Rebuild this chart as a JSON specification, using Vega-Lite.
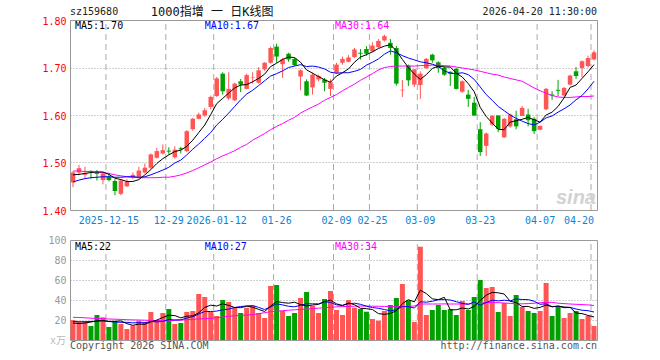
{
"$schema": "https://vega.github.io/schema/vega-lite/v6.json",
"width": 527, "height": 320,
"autosize": {"type": "none"},
"padding": {"left": 70, "top": 20, "right": 63, "bottom": 20},
"background": "white",
"config": {"view": {"stroke": null}, "axis": {"labelFont": "DejaVu Sans Mono", "labelFontSize": 10, "title": null}},
"datasets": {
"k": [
{"d":"2025-12-05","o":1.458,"h":1.481,"l":1.448,"c":1.479,"v":20,"m5":1.474,"m10":1.459,"m30":1.482,"v5":17,"v10":18.5,"v30":22.7},
{"d":"2025-12-08","o":1.479,"h":1.495,"l":1.473,"c":1.488,"v":18,"m5":1.475,"m10":1.463,"m30":1.482,"v5":16.5,"v10":18.3,"v30":22.5},
{"d":"2025-12-09","o":1.474,"h":1.491,"l":1.466,"c":1.478,"v":18.3,"m5":1.477,"m10":1.466,"m30":1.481,"v5":17,"v10":18.3,"v30":22.2},
{"d":"2025-12-10","o":1.482,"h":1.484,"l":1.466,"c":1.480,"v":14,"m5":1.479,"m10":1.468,"m30":1.481,"v5":18,"v10":18.5,"v30":21.8},
{"d":"2025-12-11","o":1.479,"h":1.484,"l":1.462,"c":1.476,"v":25,"m5":1.480,"m10":1.469,"m30":1.480,"v5":19.1,"v10":18.8,"v30":21.5},
{"d":"2025-12-12","o":1.463,"h":1.480,"l":1.454,"c":1.477,"v":22.7,"m5":1.480,"m10":1.470,"m30":1.479,"v5":19.6,"v10":19,"v30":21.3},
{"d":"2025-12-15","o":1.470,"h":1.478,"l":1.460,"c":1.463,"v":13,"m5":1.475,"m10":1.470,"m30":1.477,"v5":18.6,"v10":18.5,"v30":21},
{"d":"2025-12-16","o":1.461,"h":1.465,"l":1.431,"c":1.440,"v":19,"m5":1.467,"m10":1.469,"m30":1.474,"v5":18.7,"v10":18,"v30":20.8},
{"d":"2025-12-17","o":1.434,"h":1.465,"l":1.431,"c":1.462,"v":16,"m5":1.464,"m10":1.469,"m30":1.472,"v5":19.1,"v10":17.7,"v30":20.6},
{"d":"2025-12-18","o":1.450,"h":1.465,"l":1.448,"c":1.460,"v":11,"m5":1.460,"m10":1.470,"m30":1.470,"v5":16.3,"v10":17.7,"v30":20.3},
{"d":"2025-12-19","o":1.469,"h":1.479,"l":1.465,"c":1.474,"v":14.3,"m5":1.460,"m10":1.470,"m30":1.469,"v5":14.7,"v10":17.1,"v30":20.1},
{"d":"2025-12-22","o":1.470,"h":1.491,"l":1.466,"c":1.483,"v":19.3,"m5":1.464,"m10":1.469,"m30":1.468,"v5":15.9,"v10":17.3,"v30":20},
{"d":"2025-12-23","o":1.479,"h":1.498,"l":1.477,"c":1.489,"v":18,"m5":1.474,"m10":1.470,"m30":1.468,"v5":15.7,"v10":17.2,"v30":19.8},
{"d":"2025-12-24","o":1.489,"h":1.519,"l":1.486,"c":1.517,"v":28,"m5":1.485,"m10":1.474,"m30":1.468,"v5":18.1,"v10":18.6,"v30":19.6},
{"d":"2025-12-25","o":1.510,"h":1.531,"l":1.508,"c":1.524,"v":20,"m5":1.498,"m10":1.479,"m30":1.468,"v5":19.9,"v10":18.1,"v30":19.5},
{"d":"2025-12-26","o":1.519,"h":1.538,"l":1.517,"c":1.526,"v":27,"m5":1.508,"m10":1.484,"m30":1.469,"v5":22.5,"v10":18.6,"v30":19.4},
{"d":"2025-12-29","o":1.525,"h":1.532,"l":1.517,"c":1.523,"v":31,"m5":1.516,"m10":1.490,"m30":1.469,"v5":24.8,"v10":20.4,"v30":19.4},
{"d":"2025-12-30","o":1.511,"h":1.534,"l":1.508,"c":1.527,"v":16,"m5":1.523,"m10":1.499,"m30":1.471,"v5":24.4,"v10":20.1,"v30":19.6},
{"d":"2025-12-31","o":1.530,"h":1.533,"l":1.519,"c":1.528,"v":17,"m5":1.526,"m10":1.505,"m30":1.474,"v5":22.2,"v10":20.2,"v30":19.9},
{"d":"2026-01-05","o":1.524,"h":1.568,"l":1.522,"c":1.566,"v":28,"m5":1.534,"m10":1.516,"m30":1.478,"v5":23.8,"v10":21.9,"v30":20.3},
{"d":"2026-01-06","o":1.570,"h":1.594,"l":1.567,"c":1.592,"v":29,"m5":1.547,"m10":1.528,"m30":1.483,"v5":24.2,"v10":23.3,"v30":20.7},
{"d":"2026-01-07","o":1.592,"h":1.605,"l":1.591,"c":1.601,"v":46,"m5":1.563,"m10":1.539,"m30":1.489,"v5":27.2,"v10":26,"v30":21},
{"d":"2026-01-08","o":1.599,"h":1.615,"l":1.596,"c":1.610,"v":43,"m5":1.579,"m10":1.551,"m30":1.495,"v5":32.6,"v10":28.5,"v30":21.3},
{"d":"2026-01-09","o":1.617,"h":1.641,"l":1.612,"c":1.638,"v":28,"m5":1.601,"m10":1.563,"m30":1.501,"v5":34.8,"v10":28.5,"v30":21.7},
{"d":"2026-01-12","o":1.640,"h":1.680,"l":1.638,"c":1.677,"v":24,"m5":1.624,"m10":1.579,"m30":1.508,"v5":34,"v10":28.9,"v30":22.3},
{"d":"2026-01-13","o":1.687,"h":1.690,"l":1.643,"c":1.650,"v":40,"m5":1.635,"m10":1.591,"m30":1.514,"v5":36.2,"v10":30.2,"v30":23},
{"d":"2026-01-14","o":1.635,"h":1.690,"l":1.631,"c":1.655,"v":38,"m5":1.646,"m10":1.604,"m30":1.519,"v5":34.6,"v10":30.9,"v30":23.7},
{"d":"2026-01-15","o":1.631,"h":1.668,"l":1.629,"c":1.666,"v":32.3,"m5":1.657,"m10":1.618,"m30":1.525,"v5":32.5,"v10":32.5,"v30":24.3},
{"d":"2026-01-16","o":1.671,"h":1.676,"l":1.648,"c":1.664,"v":27,"m5":1.663,"m10":1.632,"m30":1.532,"v5":32.3,"v10":33.5,"v30":24.6},
{"d":"2026-01-19","o":1.655,"h":1.687,"l":1.654,"c":1.684,"v":32.3,"m5":1.664,"m10":1.644,"m30":1.538,"v5":33.9,"v10":34,"v30":24.9},
{"d":"2026-01-20","o":1.678,"h":1.690,"l":1.666,"c":1.679,"v":34.3,"m5":1.670,"m10":1.652,"m30":1.547,"v5":32.8,"v10":34.5,"v30":25.3},
{"d":"2026-01-21","o":1.668,"h":1.701,"l":1.666,"c":1.694,"v":27,"m5":1.677,"m10":1.662,"m30":1.554,"v5":30.6,"v10":32.6,"v30":26.3},
{"d":"2026-01-22","o":1.696,"h":1.711,"l":1.693,"c":1.710,"v":22,"m5":1.686,"m10":1.672,"m30":1.561,"v5":28.5,"v10":30.5,"v30":27.3},
{"d":"2026-01-23","o":1.710,"h":1.744,"l":1.708,"c":1.741,"v":54,"m5":1.702,"m10":1.682,"m30":1.569,"v5":33.9,"v10":33.1,"v30":28.3},
{"d":"2026-01-26","o":1.744,"h":1.750,"l":1.710,"c":1.723,"v":55,"m5":1.709,"m10":1.687,"m30":1.576,"v5":38.5,"v10":36.2,"v30":28.8},
{"d":"2026-01-27","o":1.707,"h":1.720,"l":1.678,"c":1.717,"v":29,"m5":1.717,"m10":1.693,"m30":1.582,"v5":37.4,"v10":35.1,"v30":29.3},
{"d":"2026-01-28","o":1.729,"h":1.731,"l":1.712,"c":1.717,"v":24,"m5":1.722,"m10":1.700,"m30":1.589,"v5":36.8,"v10":33.7,"v30":29.8},
{"d":"2026-01-29","o":1.718,"h":1.720,"l":1.703,"c":1.705,"v":27,"m5":1.721,"m10":1.703,"m30":1.595,"v5":37.8,"v10":33.2,"v30":30.2},
{"d":"2026-01-30","o":1.681,"h":1.696,"l":1.652,"c":1.694,"v":42,"m5":1.711,"m10":1.706,"m30":1.604,"v5":35.4,"v10":34.7,"v30":30.6},
{"d":"2026-02-02","o":1.671,"h":1.675,"l":1.640,"c":1.641,"v":48,"m5":1.695,"m10":1.702,"m30":1.611,"v5":34,"v10":36.2,"v30":31},
{"d":"2026-02-03","o":1.658,"h":1.689,"l":1.643,"c":1.685,"v":34,"m5":1.688,"m10":1.703,"m30":1.617,"v5":35,"v10":36.2,"v30":31.4},
{"d":"2026-02-04","o":1.675,"h":1.685,"l":1.671,"c":1.682,"v":27,"m5":1.681,"m10":1.701,"m30":1.623,"v5":35.6,"v10":36.2,"v30":31.8},
{"d":"2026-02-05","o":1.675,"h":1.678,"l":1.650,"c":1.668,"v":41,"m5":1.674,"m10":1.697,"m30":1.631,"v5":38.4,"v10":38.1,"v30":32.3},
{"d":"2026-02-06","o":1.655,"h":1.675,"l":1.640,"c":1.669,"v":49,"m5":1.669,"m10":1.690,"m30":1.637,"v5":39.8,"v10":37.6,"v30":32.8},
{"d":"2026-02-09","o":1.689,"h":1.710,"l":1.687,"c":1.706,"v":30,"m5":1.682,"m10":1.688,"m30":1.643,"v5":36.2,"v10":35.1,"v30":33.1},
{"d":"2026-02-10","o":1.710,"h":1.723,"l":1.706,"c":1.718,"v":25,"m5":1.689,"m10":1.689,"m30":1.651,"v5":34.4,"v10":34.7,"v30":33.4},
{"d":"2026-02-11","o":1.712,"h":1.726,"l":1.711,"c":1.721,"v":40,"m5":1.697,"m10":1.689,"m30":1.658,"v5":37,"v10":36.3,"v30":33.6},
{"d":"2026-02-12","o":1.722,"h":1.741,"l":1.720,"c":1.738,"v":32.3,"m5":1.711,"m10":1.692,"m30":1.665,"v5":35.3,"v10":36.8,"v30":33.8},
{"d":"2026-02-13","o":1.731,"h":1.739,"l":1.717,"c":1.729,"v":31,"m5":1.722,"m10":1.696,"m30":1.673,"v5":31.7,"v10":35.7,"v30":34},
{"d":"2026-02-24","o":1.739,"h":1.745,"l":1.725,"c":1.729,"v":28.3,"m5":1.727,"m10":1.705,"m30":1.680,"v5":31.3,"v10":33.8,"v30":33.9},
{"d":"2026-02-25","o":1.734,"h":1.753,"l":1.732,"c":1.746,"v":21,"m5":1.733,"m10":1.711,"m30":1.687,"v5":30.5,"v10":32.5,"v30":33.8},
{"d":"2026-02-26","o":1.743,"h":1.760,"l":1.741,"c":1.756,"v":19.3,"m5":1.740,"m10":1.718,"m30":1.695,"v5":26.4,"v10":31.7,"v30":33.7},
{"d":"2026-02-27","o":1.757,"h":1.769,"l":1.755,"c":1.766,"v":29,"m5":1.745,"m10":1.728,"m30":1.700,"v5":25.7,"v10":30.5,"v30":33.6},
{"d":"2026-03-02","o":1.752,"h":1.760,"l":1.727,"c":1.741,"v":35,"m5":1.748,"m10":1.735,"m30":1.702,"v5":26.5,"v10":29.1,"v30":33.5},
{"d":"2026-03-03","o":1.741,"h":1.745,"l":1.662,"c":1.666,"v":42,"m5":1.735,"m10":1.731,"m30":1.703,"v5":29.3,"v10":30.3,"v30":33.3},
{"d":"2026-03-04","o":1.652,"h":1.674,"l":1.638,"c":1.653,"v":56,"m5":1.717,"m10":1.725,"m30":1.703,"v5":36.3,"v10":33.4,"v30":33.4},
{"d":"2026-03-05","o":1.704,"h":1.706,"l":1.661,"c":1.673,"v":39.7,"m5":1.700,"m10":1.720,"m30":1.703,"v5":40.3,"v10":33.4,"v30":33.6},
{"d":"2026-03-06","o":1.664,"h":1.697,"l":1.659,"c":1.696,"v":18,"m5":1.686,"m10":1.716,"m30":1.703,"v5":38.1,"v10":31.9,"v30":34},
{"d":"2026-03-09","o":1.663,"h":1.692,"l":1.634,"c":1.687,"v":93.3,"m5":1.675,"m10":1.712,"m30":1.704,"v5":49.8,"v10":38.2,"v30":36},
{"d":"2026-03-10","o":1.699,"h":1.720,"l":1.697,"c":1.718,"v":25,"m5":1.685,"m10":1.710,"m30":1.704,"v5":46.4,"v10":37.8,"v30":36},
{"d":"2026-03-11","o":1.727,"h":1.729,"l":1.710,"c":1.715,"v":30,"m5":1.698,"m10":1.707,"m30":1.705,"v5":41.2,"v10":38.7,"v30":36},
{"d":"2026-03-12","o":1.711,"h":1.713,"l":1.689,"c":1.699,"v":35,"m5":1.703,"m10":1.702,"m30":1.705,"v5":40.3,"v10":40.3,"v30":36},
{"d":"2026-03-13","o":1.699,"h":1.703,"l":1.682,"c":1.685,"v":30,"m5":1.701,"m10":1.693,"m30":1.704,"v5":42.7,"v10":40.4,"v30":36.1},
{"d":"2026-03-16","o":1.691,"h":1.692,"l":1.661,"c":1.687,"v":31,"m5":1.701,"m10":1.688,"m30":1.703,"v5":30.2,"v10":40,"v30":36},
{"d":"2026-03-17","o":1.697,"h":1.699,"l":1.654,"c":1.655,"v":25,"m5":1.688,"m10":1.687,"m30":1.701,"v5":30.2,"v10":38.3,"v30":36},
{"d":"2026-03-18","o":1.649,"h":1.673,"l":1.647,"c":1.671,"v":39,"m5":1.680,"m10":1.689,"m30":1.699,"v5":32,"v10":36.6,"v30":36},
{"d":"2026-03-19","o":1.643,"h":1.653,"l":1.617,"c":1.634,"v":30,"m5":1.666,"m10":1.685,"m30":1.697,"v5":31,"v10":35.6,"v30":36.2},
{"d":"2026-03-20","o":1.626,"h":1.638,"l":1.598,"c":1.599,"v":43,"m5":1.649,"m10":1.675,"m30":1.695,"v5":33.6,"v10":38.1,"v30":36.4},
{"d":"2026-03-23","o":1.570,"h":1.585,"l":1.514,"c":1.522,"v":60,"m5":1.616,"m10":1.659,"m30":1.692,"v5":39.4,"v10":34.8,"v30":36.6},
{"d":"2026-03-24","o":1.535,"h":1.563,"l":1.514,"c":1.561,"v":52,"m5":1.597,"m10":1.643,"m30":1.689,"v5":44.8,"v10":37.5,"v30":37.5},
{"d":"2026-03-25","o":1.580,"h":1.600,"l":1.577,"c":1.598,"v":53,"m5":1.583,"m10":1.631,"m30":1.686,"v5":47.6,"v10":39.8,"v30":37.5},
{"d":"2026-03-26","o":1.599,"h":1.599,"l":1.564,"c":1.571,"v":28,"m5":1.570,"m10":1.618,"m30":1.684,"v5":47.2,"v10":39.1,"v30":37.3},
{"d":"2026-03-27","o":1.553,"h":1.594,"l":1.552,"c":1.592,"v":37,"m5":1.569,"m10":1.609,"m30":1.680,"v5":46,"v10":39.8,"v30":37},
{"d":"2026-03-30","o":1.576,"h":1.603,"l":1.573,"c":1.601,"v":24,"m5":1.585,"m10":1.600,"m30":1.677,"v5":38.8,"v10":39.1,"v30":36.6},
{"d":"2026-03-31","o":1.591,"h":1.609,"l":1.570,"c":1.576,"v":45,"m5":1.588,"m10":1.593,"m30":1.674,"v5":37.4,"v10":41.1,"v30":36.2},
{"d":"2026-04-01","o":1.598,"h":1.619,"l":1.598,"c":1.615,"v":33,"m5":1.591,"m10":1.587,"m30":1.671,"v5":33.4,"v10":40.5,"v30":36.2},
{"d":"2026-04-02","o":1.601,"h":1.613,"l":1.576,"c":1.589,"v":29,"m5":1.595,"m10":1.582,"m30":1.664,"v5":33.6,"v10":40.4,"v30":36.4},
{"d":"2026-04-03","o":1.592,"h":1.596,"l":1.560,"c":1.566,"v":27,"m5":1.590,"m10":1.579,"m30":1.657,"v5":31.6,"v10":38.8,"v30":36.8},
{"d":"2026-04-07","o":1.569,"h":1.578,"l":1.568,"c":1.577,"v":29,"m5":1.585,"m10":1.585,"m30":1.651,"v5":32.6,"v10":35.7,"v30":37.2},
{"d":"2026-04-08","o":1.612,"h":1.657,"l":1.610,"c":1.655,"v":57,"m5":1.600,"m10":1.594,"m30":1.646,"v5":35,"v10":36.2,"v30":37.7},
{"d":"2026-04-09","o":1.643,"h":1.650,"l":1.632,"c":1.641,"v":24,"m5":1.606,"m10":1.598,"m30":1.641,"v5":33.2,"v10":33.3,"v30":37.6},
{"d":"2026-04-10","o":1.653,"h":1.674,"l":1.640,"c":1.651,"v":33,"m5":1.618,"m10":1.606,"m30":1.638,"v5":34,"v10":33.8,"v30":36.8},
{"d":"2026-04-13","o":1.641,"h":1.659,"l":1.639,"c":1.657,"v":22,"m5":1.636,"m10":1.613,"m30":1.637,"v5":33,"v10":32.3,"v30":36.4},
{"d":"2026-04-14","o":1.664,"h":1.685,"l":1.662,"c":1.683,"v":27,"m5":1.658,"m10":1.621,"m30":1.637,"v5":32.6,"v10":32.6,"v30":36},
{"d":"2026-04-15","o":1.692,"h":1.701,"l":1.676,"c":1.682,"v":29,"m5":1.663,"m10":1.632,"m30":1.638,"v5":27,"v10":31,"v30":35.7},
{"d":"2026-04-16","o":1.699,"h":1.715,"l":1.680,"c":1.713,"v":21,"m5":1.677,"m10":1.641,"m30":1.639,"v5":26.4,"v10":29.8,"v30":35.4},
{"d":"2026-04-17","o":1.703,"h":1.725,"l":1.700,"c":1.720,"v":24,"m5":1.691,"m10":1.655,"m30":1.639,"v5":24.6,"v10":29.3,"v30":35.1},
{"d":"2026-04-20","o":1.717,"h":1.736,"l":1.715,"c":1.732,"v":14,"m5":1.706,"m10":1.671,"m30":1.640,"v5":23,"v10":28,"v30":34.5}
],
"ticks": [{"d":"2025-12-15"},{"d":"2025-12-29"},{"d":"2026-01-12"},{"d":"2026-01-26"},{"d":"2026-02-09"},{"d":"2026-02-25"},{"d":"2026-03-09"},{"d":"2026-03-23"},{"d":"2026-04-07"},{"d":"2026-04-20"}]
},
"data": {"name": "k"},
"resolve": {"scale": {"y": "independent"}, "axis": {"x": "independent", "y": "independent"}},
"layer": [
{"data": {"name": "ticks"}, "mark": {"type": "rule", "stroke": "#aaaaaa", "strokeDash": [6, 4], "strokeWidth": 1},
 "encoding": {
  "x": {"field": "d", "type": "ordinal", "bandPosition": 0, "scale": {"type": "band", "paddingInner": 0, "paddingOuter": 0}, "axis": {"orient": "top", "labels": false, "ticks": false, "grid": false, "domainColor": "#999999"}},
  "y": {"datum": 1.4, "type": "quantitative", "scale": {"domain": [1.4, 1.8], "range": [190, 0], "nice": false, "zero": false}, "axis": null},
  "y2": {"datum": 1.8}}},
{"data": {"name": "ticks"}, "mark": {"type": "rule", "stroke": "#aaaaaa", "strokeDash": [6, 4], "strokeWidth": 1},
 "encoding": {
  "x": {"field": "d", "type": "ordinal", "bandPosition": 0, "scale": {"type": "band", "paddingInner": 0, "paddingOuter": 0}, "axis": {"orient": "top", "offset": -220, "labels": false, "ticks": false, "grid": false, "domainColor": "#999999"}},
  "y": {"datum": 0, "type": "quantitative", "scale": {"domain": [0, 100], "range": [320, 220], "nice": false}, "axis": null},
  "y2": {"datum": 100}}},
{"mark": {"type": "rule", "strokeWidth": 1},
 "encoding": {
  "x": {"field": "d", "type": "ordinal", "scale": {"type": "band", "paddingInner": 0, "paddingOuter": 0},
        "axis": {"orient": "bottom", "offset": -130, "values": ["2025-12-15","2025-12-29","2026-01-12","2026-01-26","2026-02-09","2026-02-25","2026-03-09","2026-03-23","2026-04-07","2026-04-20"], "bandPosition": 0,
                 "labelExpr": "indexof(['2025-12-15','2026-01-12'], datum.value) >= 0 ? datum.value : substring(datum.value, 5)",
                 "labelColor": "#0a84d6", "labelAngle": 0, "labelPadding": 5, "labelFlush": 8, "labelOverlap": false, "ticks": false, "grid": false, "domainColor": "#999999"}},
  "y": {"field": "l", "type": "quantitative", "scale": {"domain": [1.4, 1.8], "range": [190, 0], "nice": false, "zero": false},
        "axis": {"orient": "left", "values": [1.4, 1.5, 1.6, 1.7, 1.8], "format": ".2f", "labelColor": "#ff0000", "labelPadding": 4, "labelOffset": 1, "ticks": false, "domainColor": "#999999",
                 "grid": true, "gridColor": "#a0a0a0", "gridDash": [1, 2], "gridOpacity": {"condition": {"test": "datum.value < 1.45 || datum.value > 1.75", "value": 0}, "value": 1}}},
  "y2": {"field": "h"},
  "color": {"condition": {"test": "datum.c >= datum.o", "value": "#ff5555"}, "value": "#00a000"}}},
{"mark": {"type": "bar", "size": 4.5},
 "encoding": {
  "x": {"field": "d", "type": "ordinal", "scale": {"type": "band", "paddingInner": 0, "paddingOuter": 0}, "axis": null},
  "y": {"field": "o", "type": "quantitative", "scale": {"domain": [1.4, 1.8], "range": [190, 0], "nice": false, "zero": false},
        "axis": {"orient": "right", "labels": false, "ticks": false, "grid": false, "domainColor": "#999999"}},
  "y2": {"field": "c"},
  "color": {"condition": {"test": "datum.c >= datum.o", "value": "#ff5555"}, "value": "#00a000"}}},
{"mark": {"type": "line", "color": "#ff00ff", "strokeWidth": 1},
 "encoding": {
  "x": {"field": "d", "type": "ordinal", "scale": {"type": "band", "paddingInner": 0, "paddingOuter": 0}, "axis": null},
  "y": {"field": "m30", "type": "quantitative", "scale": {"domain": [1.4, 1.8], "range": [190, 0], "nice": false, "zero": false}, "axis": null}}},
{"mark": {"type": "line", "color": "#0000ff", "strokeWidth": 1},
 "encoding": {
  "x": {"field": "d", "type": "ordinal", "scale": {"type": "band", "paddingInner": 0, "paddingOuter": 0}, "axis": null},
  "y": {"field": "m10", "type": "quantitative", "scale": {"domain": [1.4, 1.8], "range": [190, 0], "nice": false, "zero": false}, "axis": null}}},
{"mark": {"type": "line", "color": "#000000", "strokeWidth": 1},
 "encoding": {
  "x": {"field": "d", "type": "ordinal", "scale": {"type": "band", "paddingInner": 0, "paddingOuter": 0}, "axis": null},
  "y": {"field": "m5", "type": "quantitative", "scale": {"domain": [1.4, 1.8], "range": [190, 0], "nice": false, "zero": false}, "axis": null}}},
{"mark": {"type": "bar", "size": 5},
 "encoding": {
  "x": {"field": "d", "type": "ordinal", "scale": {"type": "band", "paddingInner": 0, "paddingOuter": 0},
        "axis": {"orient": "bottom", "labels": false, "ticks": false, "grid": false, "domainColor": "#999999"}},
  "y": {"field": "v", "type": "quantitative", "scale": {"domain": [0, 100], "range": [320, 220], "nice": false},
        "axis": {"orient": "left", "values": [20, 40, 60, 80, 100], "format": "d", "labelColor": "#999999", "labelPadding": 4, "ticks": false, "domainColor": "#999999",
                 "grid": true, "gridColor": "#a0a0a0", "gridDash": [1, 2], "gridOpacity": {"condition": {"test": "datum.value > 90", "value": 0}, "value": 1}}},
  "color": {"condition": {"test": "datum.c >= datum.o", "value": "#ff5555"}, "value": "#00a000"}}},
{"mark": {"type": "line", "color": "#ff00ff", "strokeWidth": 1},
 "encoding": {
  "x": {"field": "d", "type": "ordinal", "scale": {"type": "band", "paddingInner": 0, "paddingOuter": 0}, "axis": null},
  "y": {"field": "v30", "type": "quantitative", "scale": {"domain": [0, 100], "range": [320, 220], "nice": false},
        "axis": {"orient": "right", "labels": false, "ticks": false, "grid": false, "domainColor": "#999999"}}}},
{"mark": {"type": "line", "color": "#0000ff", "strokeWidth": 1},
 "encoding": {
  "x": {"field": "d", "type": "ordinal", "scale": {"type": "band", "paddingInner": 0, "paddingOuter": 0}, "axis": null},
  "y": {"field": "v10", "type": "quantitative", "scale": {"domain": [0, 100], "range": [320, 220], "nice": false}, "axis": null}}},
{"mark": {"type": "line", "color": "#000000", "strokeWidth": 1},
 "encoding": {
  "x": {"field": "d", "type": "ordinal", "scale": {"type": "band", "paddingInner": 0, "paddingOuter": 0}, "axis": null},
  "y": {"field": "v5", "type": "quantitative", "scale": {"domain": [0, 100], "range": [320, 220], "nice": false}, "axis": null}}},
{"data": {"values": [{}]}, "mark": {"type": "text", "text": "MA5:1.70", "align": "left", "baseline": "middle", "dx": 2, "font": "DejaVu Sans Mono", "fontSize": 10, "color": "#000000"},
 "encoding": {"x": {"datum": "2025-12-05", "type": "ordinal", "scale": {"type": "band", "paddingInner": 0, "paddingOuter": 0}, "axis": null},
  "y": {"datum": 1.7875, "type": "quantitative", "scale": {"domain": [1.4, 1.8], "range": [190, 0], "nice": false, "zero": false}, "axis": null}}},
{"data": {"values": [{}]}, "mark": {"type": "text", "text": "MA10:1.67", "align": "left", "baseline": "middle", "dx": 0, "font": "DejaVu Sans Mono", "fontSize": 10, "color": "#0000ff"},
 "encoding": {"x": {"datum": "2026-01-08", "type": "ordinal", "scale": {"type": "band", "paddingInner": 0, "paddingOuter": 0}, "axis": null},
  "y": {"datum": 1.7875, "type": "quantitative", "scale": {"domain": [1.4, 1.8], "range": [190, 0], "nice": false, "zero": false}, "axis": null}}},
{"data": {"values": [{}]}, "mark": {"type": "text", "text": "MA30:1.64", "align": "left", "baseline": "middle", "dx": -1.5, "font": "DejaVu Sans Mono", "fontSize": 10, "color": "#ff00ff"},
 "encoding": {"x": {"datum": "2026-02-09", "type": "ordinal", "scale": {"type": "band", "paddingInner": 0, "paddingOuter": 0}, "axis": null},
  "y": {"datum": 1.7875, "type": "quantitative", "scale": {"domain": [1.4, 1.8], "range": [190, 0], "nice": false, "zero": false}, "axis": null}}},
{"data": {"values": [{}]}, "mark": {"type": "text", "text": "MA5:22", "align": "left", "baseline": "middle", "dx": 2, "font": "DejaVu Sans Mono", "fontSize": 10, "color": "#000000"},
 "encoding": {"x": {"datum": "2025-12-05", "type": "ordinal", "scale": {"type": "band", "paddingInner": 0, "paddingOuter": 0}, "axis": null},
  "y": {"datum": 93.5, "type": "quantitative", "scale": {"domain": [0, 100], "range": [320, 220], "nice": false}, "axis": null}}},
{"data": {"values": [{}]}, "mark": {"type": "text", "text": "MA10:27", "align": "left", "baseline": "middle", "dx": 0, "font": "DejaVu Sans Mono", "fontSize": 10, "color": "#0000ff"},
 "encoding": {"x": {"datum": "2026-01-08", "type": "ordinal", "scale": {"type": "band", "paddingInner": 0, "paddingOuter": 0}, "axis": null},
  "y": {"datum": 93.5, "type": "quantitative", "scale": {"domain": [0, 100], "range": [320, 220], "nice": false}, "axis": null}}},
{"data": {"values": [{}]}, "mark": {"type": "text", "text": "MA30:34", "align": "left", "baseline": "middle", "dx": -1.5, "font": "DejaVu Sans Mono", "fontSize": 10, "color": "#ff00ff"},
 "encoding": {"x": {"datum": "2026-02-09", "type": "ordinal", "scale": {"type": "band", "paddingInner": 0, "paddingOuter": 0}, "axis": null},
  "y": {"datum": 93.5, "type": "quantitative", "scale": {"domain": [0, 100], "range": [320, 220], "nice": false}, "axis": null}}},
{"data": {"values": [{}]}, "mark": {"type": "text", "text": "sz159680", "align": "left", "baseline": "middle", "dx": -3, "font": "DejaVu Sans Mono", "fontSize": 10, "color": "#222222"},
 "encoding": {"x": {"datum": "2025-12-05", "type": "ordinal", "scale": {"type": "band", "paddingInner": 0, "paddingOuter": 0}, "axis": null},
  "y": {"datum": 1.8158, "type": "quantitative", "scale": {"domain": [1.4, 1.8], "range": [190, 0], "nice": false, "zero": false}, "axis": null}}},
{"data": {"values": [{}]}, "mark": {"type": "text", "text": "1000指增 一 日K线图", "align": "left", "baseline": "middle", "dx": 0, "font": "DejaVu Sans Mono, Noto Sans CJK SC", "fontSize": 12, "color": "#111111"},
 "encoding": {"x": {"datum": "2025-12-24", "type": "ordinal", "scale": {"type": "band", "paddingInner": 0, "paddingOuter": 0}, "axis": null},
  "y": {"datum": 1.8158, "type": "quantitative", "scale": {"domain": [1.4, 1.8], "range": [190, 0], "nice": false, "zero": false}, "axis": null}}},
{"data": {"values": [{}]}, "mark": {"type": "text", "text": "2026-04-20 11:30:00", "align": "right", "baseline": "middle", "dx": 3, "font": "DejaVu Sans Mono", "fontSize": 10, "color": "#222222"},
 "encoding": {"x": {"datum": "2026-04-20", "type": "ordinal", "scale": {"type": "band", "paddingInner": 0, "paddingOuter": 0}, "axis": null},
  "y": {"datum": 1.8158, "type": "quantitative", "scale": {"domain": [1.4, 1.8], "range": [190, 0], "nice": false, "zero": false}, "axis": null}}},
{"data": {"values": [{}]}, "mark": {"type": "text", "text": "Copyright 2026 SINA.COM", "align": "left", "baseline": "middle", "dx": -3, "font": "DejaVu Sans Mono", "fontSize": 10, "color": "#555555"},
 "encoding": {"x": {"datum": "2025-12-05", "type": "ordinal", "scale": {"type": "band", "paddingInner": 0, "paddingOuter": 0}, "axis": null},
  "y": {"datum": -5.5, "type": "quantitative", "scale": {"domain": [0, 100], "range": [320, 220], "nice": false}, "axis": null}}},
{"data": {"values": [{}]}, "mark": {"type": "text", "text": "http://finance.sina.com.cn", "align": "right", "baseline": "middle", "dx": 3, "font": "DejaVu Sans Mono", "fontSize": 10, "color": "#555555"},
 "encoding": {"x": {"datum": "2026-04-20", "type": "ordinal", "scale": {"type": "band", "paddingInner": 0, "paddingOuter": 0}, "axis": null},
  "y": {"datum": -5.5, "type": "quantitative", "scale": {"domain": [0, 100], "range": [320, 220], "nice": false}, "axis": null}}},
{"data": {"values": [{}]}, "mark": {"type": "text", "text": "x万", "align": "right", "baseline": "middle", "dx": -7, "font": "DejaVu Sans Mono, Noto Sans CJK SC", "fontSize": 10, "color": "#bbbbbb"},
 "encoding": {"x": {"datum": "2025-12-05", "type": "ordinal", "scale": {"type": "band", "paddingInner": 0, "paddingOuter": 0}, "axis": null},
  "y": {"datum": -0.5, "type": "quantitative", "scale": {"domain": [0, 100], "range": [320, 220], "nice": false}, "axis": null}}},
{"data": {"values": [{}]}, "mark": {"type": "text", "text": "sina", "align": "right", "baseline": "alphabetic", "dx": 2, "font": "Liberation Sans", "fontSize": 20, "fontStyle": "italic", "fontWeight": "bold", "color": "#d2d2d2"},
 "encoding": {"x": {"datum": "2026-04-20", "type": "ordinal", "scale": {"type": "band", "paddingInner": 0, "paddingOuter": 0}, "axis": null},
  "y": {"datum": 1.412, "type": "quantitative", "scale": {"domain": [1.4, 1.8], "range": [190, 0], "nice": false, "zero": false}, "axis": null}}}
]
}
